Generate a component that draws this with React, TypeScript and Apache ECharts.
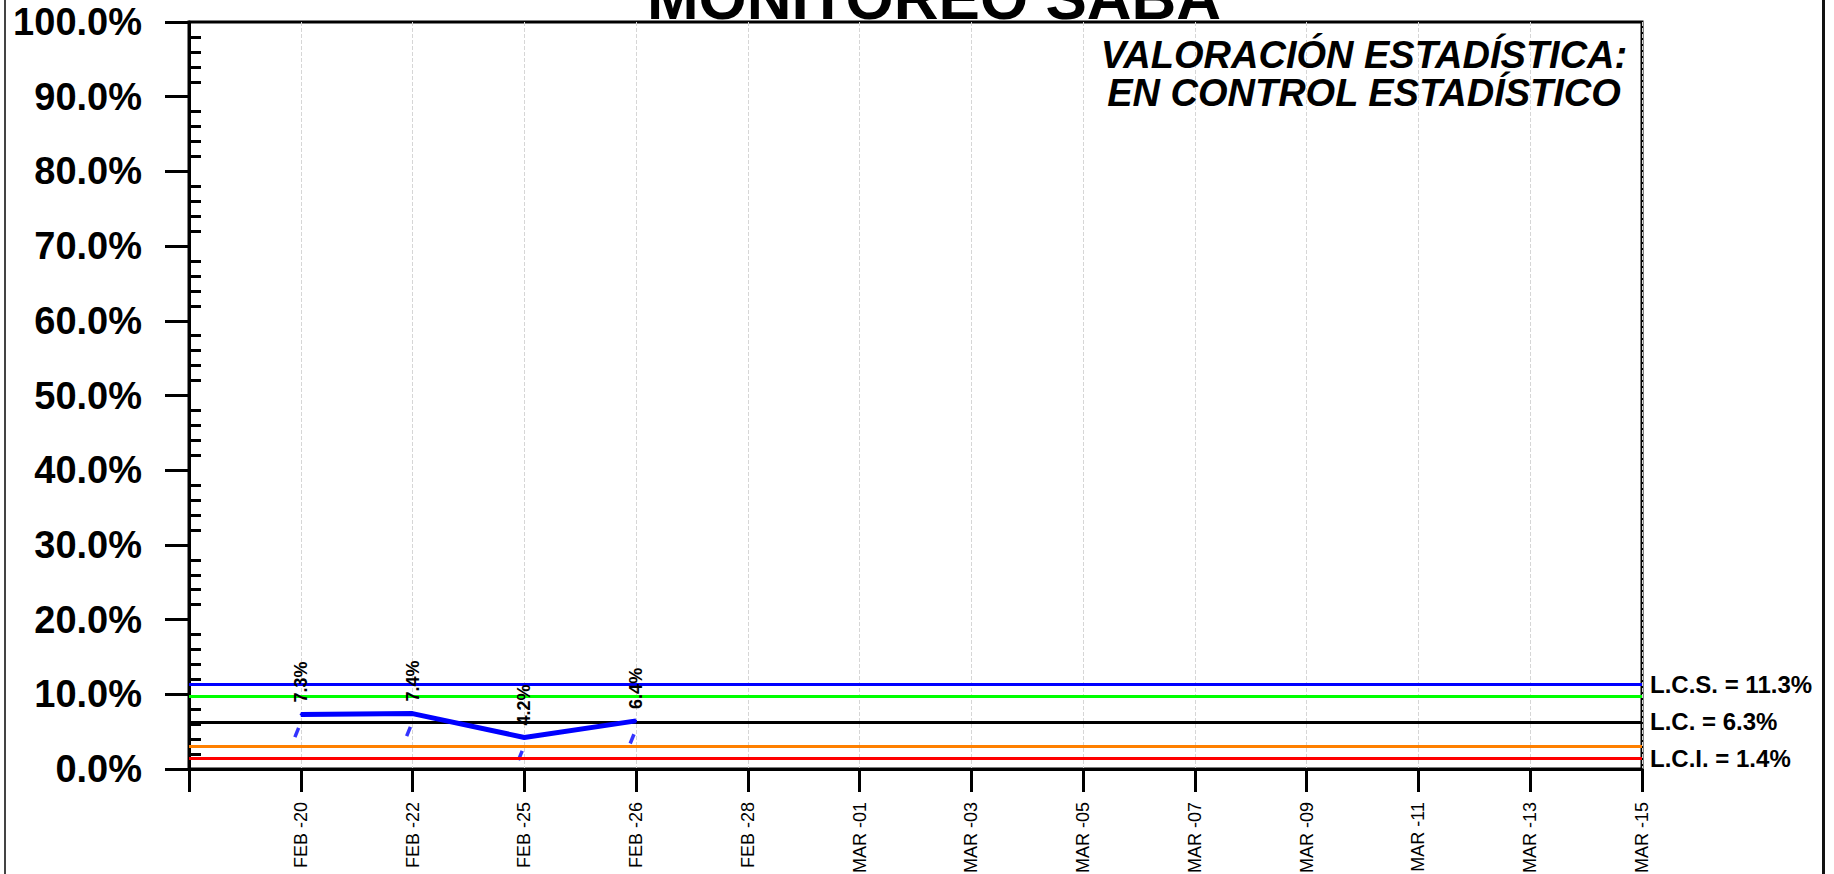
import React, { useEffect, useRef } from "react";
import * as echarts from "echarts";

const categories = ["", "FEB -20", "FEB -22", "FEB -25", "FEB -26", "FEB -28", "MAR -01", "MAR -03", "MAR -05", "MAR -07", "MAR -09", "MAR -11", "MAR -13", "MAR -15"];
const values: (number | null)[] = [null, 7.3, 7.42, 4.22, 6.44, null, null, null, null, null, null, null, null, null];
const lcs = 11.3;
const lc = 6.3;
const lci = 1.4;
const upperWarn = 9.7;
const lowerWarn = 3.0;
const yTicks = [0, 10, 20, 30, 40, 50, 60, 70, 80, 90, 100];
const title = "MONITOREO SABA";
const verdictLines = ["VALORACIÓN ESTADÍSTICA:", "EN CONTROL ESTADÍSTICO"];

const FONT = "'Liberation Sans', Arial, sans-serif";

export default function App() {
  const ref = useRef<HTMLDivElement>(null);
  useEffect(() => {
    document.body.style.margin = "0";
    if (!ref.current) return;
    const chart = echarts.init(ref.current, undefined, { renderer: "svg" });
    const yMin = yTicks[0];
    const yMax = yTicks[yTicks.length - 1];
    const yInt = yTicks[1] - yTicks[0];
    const option: any = {
      animation: false,
      backgroundColor: "#ffffff",
      textStyle: { fontFamily: FONT },
      grid: {
        left: 189, right: 192, top: 22, bottom: 105,
        show: true, borderColor: "#000", borderWidth: 3,
        containLabel: false, outerBoundsMode: "none",
      },
      xAxis: {
        type: "category",
        data: categories,
        boundaryGap: false,
        axisLine: { show: true, lineStyle: { color: "#000", width: 3 } },
        axisTick: { show: true, interval: 0, length: 23, lineStyle: { color: "#000", width: 3 } },
        axisLabel: { show: true, interval: 0, rotate: 90, margin: 33, fontSize: 18, color: "#000", fontFamily: FONT },
        splitLine: { show: true, interval: 0, lineStyle: { color: "#d6d6d6", width: 1, type: [4, 2] } },
      },
      yAxis: [
        {
          type: "value", min: yMin, max: yMax, interval: yInt, position: "left",
          axisLine: { show: true, lineStyle: { color: "#000", width: 3 } },
          axisTick: { show: true, length: 24, lineStyle: { color: "#000", width: 3 } },
          axisLabel: {
            show: true, margin: 47, fontSize: 38, fontWeight: "bold", color: "#000", fontFamily: FONT,
            formatter: (v: number) => v.toFixed(1) + "%",
          },
          splitLine: { show: false },
        },
        {
          type: "value", min: yMin, max: yMax, interval: yInt, position: "left", offset: 0,
          axisLine: { show: false },
          axisTick: { show: false, inside: true },
          axisLabel: { show: false },
          splitLine: { show: false },
          minorTick: { show: true, splitNumber: 5, length: 12, lineStyle: { color: "#000", width: 3 } },
          minorSplitLine: { show: false },
        },
      ],
      series: [
        {
          type: "line",
          data: [],
          z: 1,
          silent: true,
          markLine: {
            silent: true,
            symbol: ["none", "none"],
            animation: false,
            label: { show: true, position: "end", distance: 8, fontSize: 24, fontWeight: "bold", color: "#000", fontFamily: FONT },
            data: [
              { yAxis: lcs, lineStyle: { color: "#0000ff", width: 3, type: "solid" }, label: { formatter: `L.C.S. = ${lcs.toFixed(1)}%` } },
              { yAxis: upperWarn, lineStyle: { color: "#00ff00", width: 3, type: "solid" }, label: { show: false } },
              { yAxis: lc, lineStyle: { color: "#000000", width: 3, type: "solid" }, label: { formatter: `L.C. = ${lc.toFixed(1)}%` } },
              { yAxis: lowerWarn, lineStyle: { color: "#ff8000", width: 3, type: "solid" }, label: { show: false } },
              { yAxis: lci, lineStyle: { color: "#ff0000", width: 3, type: "solid" }, label: { formatter: `L.C.I. = ${lci.toFixed(1)}%` } },
            ],
          },
        },
        {
          type: "scatter",
          data: values,
          z: 4,
          silent: true,
          symbol: "rect",
          symbolSize: [3.5, 10],
          symbolRotate: -22,
          symbolOffset: [-4, 18],
          itemStyle: { color: "#0000ff" },
        },
        {
          type: "line",
          data: values,
          z: 5,
          connectNulls: false,
          showSymbol: true,
          symbol: "circle",
          symbolSize: 2,
          itemStyle: { color: "#0000ff" },
          lineStyle: { color: "#0000ff", width: 5 },
          label: {
            show: true, position: "top", distance: 11, rotate: 90, align: "left", verticalAlign: "middle",
            fontSize: 18, fontWeight: "bold", color: "#000", fontFamily: FONT,
            formatter: (p: any) => (p.value == null ? "" : Number(p.value).toFixed(1) + "%"),
          },
        },
      ],
      graphic: [
        {
          type: "text", x: 934, y: -3, z: 10,
          style: { text: title, fill: "#000", font: `bold 62px ${FONT}`, textAlign: "center", textVerticalAlign: "middle" },
        },
        {
          type: "text", x: 1364, y: 36, z: 10,
          style: {
            text: verdictLines.join("\n"), fill: "#000", font: `italic bold 38px ${FONT}`,
            textAlign: "center", textVerticalAlign: "top", lineHeight: 38,
          },
        },
        { type: "line", shape: { x1: 5, y1: 0, x2: 5, y2: 874 }, style: { stroke: "#444", lineWidth: 2 } },
        { type: "line", shape: { x1: 1823.5, y1: 0, x2: 1823.5, y2: 874 }, style: { stroke: "#111", lineWidth: 3 } },
      ],
    };
    chart.setOption(option);
    return () => chart.dispose();
  }, []);
  return <div ref={ref} style={{ width: 1834, height: 874 }} />;
}
